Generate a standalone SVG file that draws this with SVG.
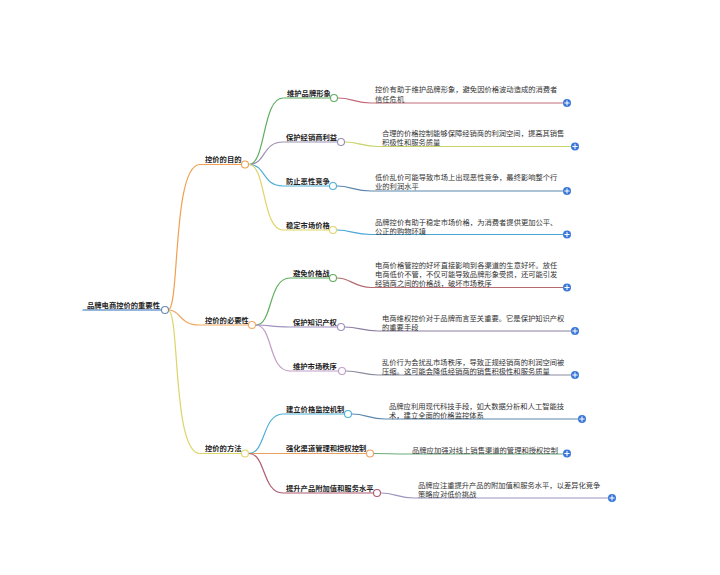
<svg xmlns="http://www.w3.org/2000/svg" width="720" height="575" viewBox="0 0 720 575">
<style>
text{font-family:"Noto Sans CJK SC","Noto Sans",sans-serif;font-size:7.3px;fill:#222}
.lbl{font-weight:600}
.leaf{fill:#333;font-weight:400}
path{fill:none;stroke-width:1.2;stroke-linecap:round}
.dot{fill:#fff;stroke-width:1.1}
.plus{fill:#3a78d8}
.pl{stroke:#fff;stroke-width:1;fill:none}
</style>
<defs>
<g id="plusbtn"><circle class="plus" r="4"/><path class="pl" d="M-2.2,0H2.2M0,-2.2V2.2"/></g>
</defs>
<rect width="720" height="575" fill="#fff"/>
<g id="connectors">
<path d="M168,310 C180,310 172,164.5 200,164.5 H241" stroke="#f0a050"/>
<path d="M168,310 C182,310 178,325 200,325 H248" stroke="#efa860"/>
<path d="M168,310 C180,310 172,453.5 200,453.5 H241" stroke="#dcd56a"/>
<path d="M249,164.5 C266,164.5 262,98 283,98 H330" stroke="#5fae5f"/>
<path d="M249,164.5 C266,164.5 262,142 283,142 H337" stroke="#9b8fb5"/>
<path d="M249,164.5 C266,164.5 262,186 283,186 H329" stroke="#4fb0d8"/>
<path d="M249,164.5 C266,164.5 262,230 283,230 H329" stroke="#e0d46a"/>
<path d="M256,325 C273,325 268,278 290,278 H329" stroke="#5fae5f"/>
<path d="M256,325 C273,325 268,327 290,327 H337" stroke="#a090c0"/>
<path d="M256,325 C273,325 268,371 290,371 H338" stroke="#c49cc8"/>
<path d="M249,453.5 C266,453.5 262,414 283,414 H344" stroke="#4fb0d8"/>
<path d="M249,453.5 C266,453.5 262,453.5 283,453.5 H366" stroke="#e8a060"/>
<path d="M249,453.5 C266,453.5 262,493 283,493 H373" stroke="#b05a70"/>
<path d="M338,98 C352,98 355,103 371,103 H563" stroke="#c06a78"/>
<path d="M345,142 C359,142 362,146.5 378,146.5 H571" stroke="#c9d36b"/>
<path d="M337,186 C351,186 354,191 371,191 H563" stroke="#5b87ad"/>
<path d="M337,230 C351,230 354,234.5 371,234.5 H563" stroke="#4aa6d6"/>
<path d="M337,278 C351,278 354,287.5 371,287.5 H563" stroke="#b56a70"/>
<path d="M345,327 C359,327 362,331 378,331 H571" stroke="#8c7fa0"/>
<path d="M346,371 C360,371 363,375 378,375 H571" stroke="#8c8ca0"/>
<path d="M352,414 C366,414 369,419 385,419 H578" stroke="#5b87ad"/>
<path d="M374,453.5 C388,453.5 391,454 408,454 H563" stroke="#6aaa7a"/>
<path d="M381,493 C395,493 398,498 414,498 H608" stroke="#9c95c0"/>
</g>
<g id="root">
<path d="M83,310 H161" stroke="#2e6db5" stroke-width="2"/>
<text class="lbl" x="87" y="307.5">品牌电商控价的重要性</text>
<circle class="dot" cx="165" cy="310" r="3.5" stroke="#6a8ab0"/>
</g>
<g id="b1">
<text class="lbl" x="205" y="162.3">控价的目的</text>
<circle class="dot" cx="245" cy="164.5" r="3.5" stroke="#f0a050"/>
</g>
<g id="b2">
<text class="lbl" x="205" y="322.8">控价的必要性</text>
<circle class="dot" cx="252" cy="325" r="3.5" stroke="#efa860"/>
</g>
<g id="b3">
<text class="lbl" x="205" y="451.3">控价的方法</text>
<circle class="dot" cx="245" cy="453.5" r="3.5" stroke="#dcd56a"/>
</g>
<g id="c1"><text class="lbl" x="287" y="95.8">维护品牌形象</text><circle class="dot" cx="334" cy="98" r="3.5" stroke="#5fae5f"/></g>
<g id="c2"><text class="lbl" x="286" y="139.8">保护经销商利益</text><circle class="dot" cx="341" cy="142" r="3.5" stroke="#9b8fb5"/></g>
<g id="c3"><text class="lbl" x="286" y="183.8">防止恶性竞争</text><circle class="dot" cx="333" cy="186" r="3.5" stroke="#4fb0d8"/></g>
<g id="c4"><text class="lbl" x="286" y="227.8">稳定市场价格</text><circle class="dot" cx="333" cy="230" r="3.5" stroke="#e0d46a"/></g>
<g id="c5"><text class="lbl" x="293" y="275.8">避免价格战</text><circle class="dot" cx="333" cy="278" r="3.5" stroke="#5fae5f"/></g>
<g id="c6"><text class="lbl" x="293" y="324.8">保护知识产权</text><circle class="dot" cx="341" cy="327" r="3.5" stroke="#a090c0"/></g>
<g id="c7"><text class="lbl" x="293" y="368.8">维护市场秩序</text><circle class="dot" cx="342" cy="371" r="3.5" stroke="#c49cc8"/></g>
<g id="c8"><text class="lbl" x="286" y="411.8">建立价格监控机制</text><circle class="dot" cx="348" cy="414" r="3.5" stroke="#4fb0d8"/></g>
<g id="c9"><text class="lbl" x="286" y="451.3">强化渠道管理和授权控制</text><circle class="dot" cx="370" cy="453.5" r="3.5" stroke="#e8a060"/></g>
<g id="c10"><text class="lbl" x="286" y="490.8">提升产品附加值和服务水平</text><circle class="dot" cx="377" cy="493" r="3.5" stroke="#b05a70"/></g>
<g id="l1"><text class="leaf" x="375" y="92.4">控价有助于维护品牌形象，避免因价格波动造成的消费者</text><text class="leaf" x="375" y="101.6">信任危机</text><use href="#plusbtn" x="567" y="103"/></g>
<g id="l2"><text class="leaf" x="382" y="135.8">合理的价格控制能够保障经销商的利润空间，提高其销售</text><text class="leaf" x="382" y="145">积极性和服务质量</text><use href="#plusbtn" x="575" y="146.5"/></g>
<g id="l3"><text class="leaf" x="375" y="180">低价乱价可能导致市场上出现恶性竞争，最终影响整个行</text><text class="leaf" x="375" y="189.2">业的利润水平</text><use href="#plusbtn" x="567" y="191"/></g>
<g id="l4"><text class="leaf" x="375" y="224.6">品牌控价有助于稳定市场价格，为消费者提供更加公平、</text><text class="leaf" x="375" y="233.8">公正的购物环境</text><use href="#plusbtn" x="567" y="234.5"/></g>
<g id="l5"><text class="leaf" x="375" y="267.6">电商价格管控的好坏直接影响到各渠道的生意好坏。放任</text><text class="leaf" x="375" y="276.8">电商低价不管，不仅可能导致品牌形象受损，还可能引发</text><text class="leaf" x="375" y="286">经销商之间的价格战，破坏市场秩序</text><use href="#plusbtn" x="567" y="287.5"/></g>
<g id="l6"><text class="leaf" x="382" y="320.6">电商维权控价对于品牌而言至关重要。它是保护知识产权</text><text class="leaf" x="382" y="329.8">的重要手段</text><use href="#plusbtn" x="575" y="331"/></g>
<g id="l7"><text class="leaf" x="382" y="364.6">乱价行为会扰乱市场秩序，导致正规经销商的利润空间被</text><text class="leaf" x="382" y="373.8">压缩。这可能会降低经销商的销售积极性和服务质量</text><use href="#plusbtn" x="575" y="375"/></g>
<g id="l8"><text class="leaf" x="389" y="408.6">品牌应利用现代科技手段，如大数据分析和人工智能技</text><text class="leaf" x="389" y="417.8">术，建立全面的价格监控体系</text><use href="#plusbtn" x="582" y="419"/></g>
<g id="l9"><text class="leaf" x="412" y="452.6">品牌应加强对线上销售渠道的管理和授权控制</text><use href="#plusbtn" x="567" y="453.5"/></g>
<g id="l10"><text class="leaf" x="418" y="487.6">品牌应注重提升产品的附加值和服务水平，以差异化竞争</text><text class="leaf" x="418" y="496.8">策略应对低价挑战</text><use href="#plusbtn" x="612" y="498"/></g>
</svg>
